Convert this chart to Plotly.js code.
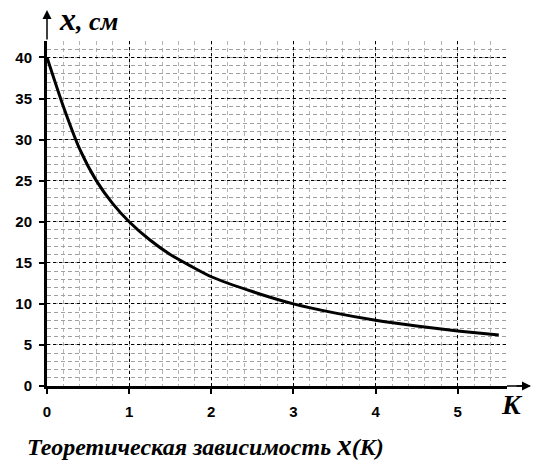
<!DOCTYPE html>
<html><head><meta charset="utf-8">
<script src="https://cdn.plot.ly/plotly-3.0.1.min.js"></script>
<style>body{margin:0;background:#fff}#c{width:539px;height:471px}</style>
</head><body><div id="c"></div>
<script>
var K = [0, 0.2, 0.4, 0.6, 0.8, 1.0, 1.25, 1.5, 1.75, 2.0, 2.5, 3.0, 3.5, 4.0, 4.5, 5.0, 5.5];
var X = [40, 34, 28.8, 25, 22.2, 20, 17.8, 16, 14.6, 13.3, 11.5, 10, 8.9, 8, 7.3, 6.7, 6.2];
var xTicks = [0, 1, 2, 3, 4, 5];
var yTicks = [0, 5, 10, 15, 20, 25, 30, 35, 40];

var serif = 'Liberation Serif';
var sans = 'Liberation Sans';

var data = [{
  x: K, y: X, type: 'scatter', mode: 'lines',
  line: {color: '#000', width: 3, shape: 'spline', smoothing: 0.6},
  hoverinfo: 'skip', cliponaxis: false
}];

var layout = {
  width: 539, height: 471,
  margin: {l: 47, r: 32, t: 40.5, b: 85},
  paper_bgcolor: '#fff', plot_bgcolor: '#fff',
  showlegend: false,
  xaxis: {
    range: [0, 5.6], tickvals: xTicks, ticktext: xTicks.map(function(v){return '<b>' + v + '</b>';}),
    showgrid: true, gridcolor: '#000', gridwidth: 1, griddash: '3px,3px',
    minor: {dtick: 0.2, tick0: 0, showgrid: true, gridcolor: '#b4b4b4', gridwidth: 1, griddash: '4px,3px', ticks: ''},
    zeroline: false, showline: true, linecolor: '#000', linewidth: 3,
    ticks: 'outside', ticklen: 5, tickwidth: 2, tickcolor: '#000',
    ticklabelstandoff: 5,
    tickfont: {family: sans, size: 15, color: '#000'},
    fixedrange: true
  },
  yaxis: {
    range: [0, 42], tickvals: yTicks, ticktext: yTicks.map(function(v){return '<b>' + v + '</b>';}),
    showgrid: true, gridcolor: '#000', gridwidth: 1, griddash: '3px,3px',
    minor: {dtick: 1, tick0: 0, showgrid: true, gridcolor: '#a0a0a0', gridwidth: 1, griddash: '4px,3px', ticks: ''},
    zeroline: false, showline: true, linecolor: '#000', linewidth: 3,
    ticks: 'outside', ticklen: 5, tickwidth: 2, tickcolor: '#000',
    ticklabelstandoff: 4,
    tickfont: {family: sans, size: 15, color: '#000'},
    fixedrange: true
  },
  annotations: [
    {xref: 'paper', yref: 'paper', x: 1.0, y: 0, ax: 531 - 507, ay: 0, axref: 'pixel', ayref: 'pixel',
     text: '', showarrow: true, arrowhead: 0, arrowwidth: 1.5, arrowcolor: '#000'},
    {xref: 'paper', yref: 'paper', x: 1.0 + 24/460, y: 0, ax: -16, ay: 0,
     text: '', showarrow: true, arrowhead: 2, arrowsize: 1.2, arrowwidth: 1.5, arrowcolor: '#000', standoff: 0},
    {xref: 'paper', yref: 'paper', x: 0, y: 1 + 31/345.5, ax: 0, ay: 31,
     text: '', showarrow: true, arrowhead: 2, arrowsize: 1.2, arrowwidth: 1.5, arrowcolor: '#000', standoff: 0},
    {xref: 'paper', yref: 'paper', x: 10/460, y: 1 + 22/345.5, xanchor: 'left', yanchor: 'middle',
     text: '<b><i><span style="font-size:32px">x</span>, см</i></b>', showarrow: false,
     font: {family: serif, size: 26, color: '#000'}},
    {xref: 'paper', yref: 'paper', x: 1 + 5/460, y: -19/345.5, xanchor: 'center', yanchor: 'middle',
     text: '<b><i>K</i></b>', showarrow: false,
     font: {family: serif, size: 28, color: '#000'}},
    {xref: 'paper', yref: 'paper', x: -22/460, y: -59/345.5, xanchor: 'left', yanchor: 'middle',
     text: '<b><i>Теоретическая зависимость <span style="font-size:29px">x</span>(K)</i></b>', showarrow: false,
     font: {family: serif, size: 24, color: '#000'}}
  ]
};

Plotly.newPlot('c', data, layout, {staticPlot: true, displayModeBar: false});
</script>
</body></html>
